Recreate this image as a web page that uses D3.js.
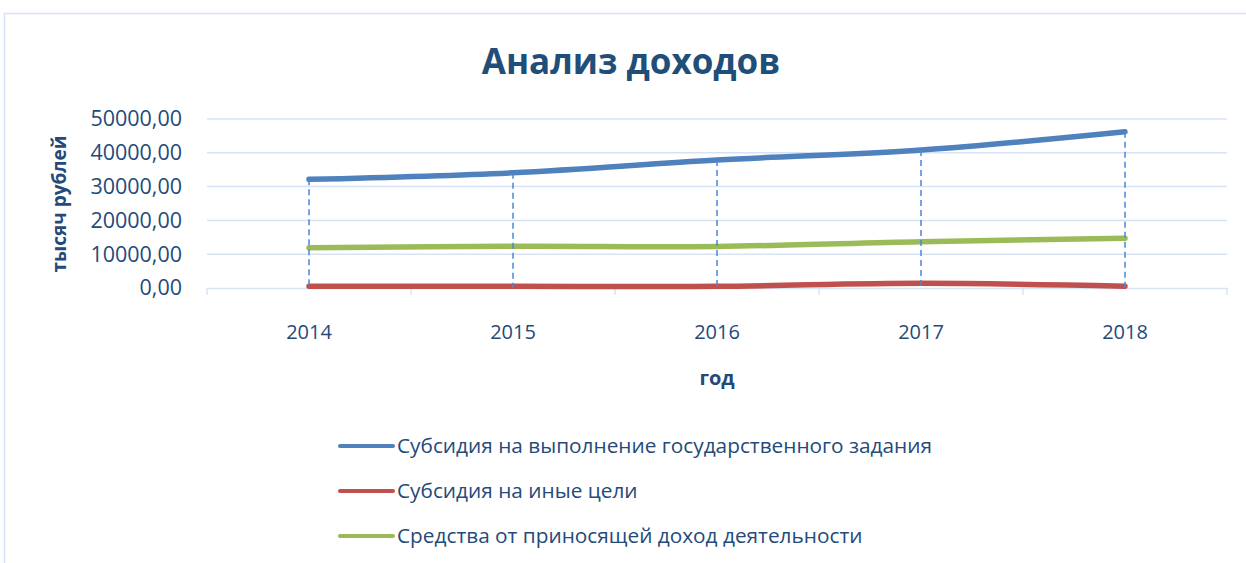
<!DOCTYPE html>
<html>
<head>
<meta charset="utf-8">
<script src="https://cdn.jsdelivr.net/npm/d3@7"></script>
<style>
  body { margin: 0; background: #fff; }
  svg { display: block; font-family: "Open Sans", "Noto Sans", sans-serif; }
</style>
</head>
<body>
<svg id="chart"></svg>
<script>
var width = 1246;
var height = 563;

// data
var years = ["2014", "2015", "2016", "2017", "2018"];
var subsidyTask = [32150, 34100, 37870, 40830, 46240];
var subsidyOther = [500, 500, 500, 1380, 550];
var incomeActivity = [11920, 12330, 12300, 13700, 14700];
var seriesNames = [
	"Субсидия на выполнение государственного задания",
	"Субсидия на иные цели",
	"Средства от приносящей доход деятельности"
];
var yTicks = [0, 10000, 20000, 30000, 40000, 50000];

var colors = ["#4f81bd", "#c0504d", "#9bbb59"];
var textColor = "#244a7a";
var gridColor = "#d7e3f4";

var series = [subsidyTask, subsidyOther, incomeActivity].map(function (vals, i) {
	return {
		name: seriesNames[i],
		color: colors[i],
		values: vals.map(function (v, j) { return {year: years[j], value: v}; })
	};
});

var svg = d3.select("#chart")
	.attr("width", width)
	.attr("height", height);

// chart frame (cropped on the right and bottom)
svg.append("path")
	.attr("d", "M4.5," + height + "V13.5H" + width)
	.attr("fill", "none")
	.attr("stroke", gridColor)
	.attr("stroke-width", 1.5);

var plot = {left: 207, right: 1227, top: 119, bottom: 288};

var x = d3.scaleBand()
	.domain(years)
	.range([plot.left, plot.right]);

var y = d3.scaleLinear()
	.domain([0, 50000])
	.range([plot.bottom, plot.top]);

// title
svg.append("text")
	.attr("x", 631)
	.attr("y", 74)
	.attr("text-anchor", "middle")
	.attr("font-size", 35)
	.attr("font-weight", "bold")
	.attr("fill", "#1f4e79")
	.text("Анализ доходов");

// gridlines
svg.append("g")
	.selectAll("line")
	.data(yTicks.filter(function (d) { return d > 0; }))
	.enter()
	.append("line")
	.attr("x1", plot.left)
	.attr("x2", plot.right)
	.attr("y1", function (d) { return y(d); })
	.attr("y2", function (d) { return y(d); })
	.attr("stroke", gridColor)
	.attr("stroke-width", 1.5);

// y axis labels
var yAxis = svg.append("g")
	.attr("transform", "translate(" + (plot.left - 25) + ",0)")
	.call(d3.axisLeft(y).tickValues(yTicks).tickSize(0).tickPadding(0)
		.tickFormat(function (d) { return d3.format(".2f")(d).replace(".", ","); }));
yAxis.select(".domain").remove();
yAxis.selectAll("text")
	.attr("font-size", 21.5)
	.attr("font-family", "Open Sans, sans-serif")
	.attr("fill", textColor);

// x axis
var xAxis = svg.append("g")
	.attr("transform", "translate(0," + plot.bottom + ")")
	.call(d3.axisBottom(x).tickSize(0).tickPadding(37));
xAxis.select(".domain")
	.attr("stroke", gridColor)
	.attr("stroke-width", 1.5);
xAxis.selectAll("text")
	.attr("font-size", 20)
	.attr("font-family", "Open Sans, sans-serif")
	.attr("fill", textColor);

// category boundary ticks
var bounds = years.map(function (d) { return x(d); }).concat([plot.right]);
xAxis.selectAll("line.bound")
	.data(bounds)
	.enter()
	.append("line")
	.attr("class", "bound")
	.attr("x1", function (d) { return d; })
	.attr("x2", function (d) { return d; })
	.attr("y1", 0)
	.attr("y2", 7)
	.attr("stroke", gridColor)
	.attr("stroke-width", 1.5);

// axis titles
svg.append("text")
	.attr("x", x("2016") + x.bandwidth() / 2)
	.attr("y", 385)
	.attr("text-anchor", "middle")
	.attr("font-size", 20)
	.attr("font-weight", "bold")
	.attr("fill", textColor)
	.text("год");

svg.append("text")
	.attr("transform", "translate(66," + 204 + ") rotate(-90)")
	.attr("text-anchor", "middle")
	.attr("font-size", 19)
	.attr("font-weight", "bold")
	.attr("fill", textColor)
	.text("тысяч рублей");

// lines
var line = d3.line()
	.x(function (d) { return x(d.year) + x.bandwidth() / 2; })
	.y(function (d) { return y(d.value); })
	.curve(d3.curveCatmullRom.alpha(0.5));

svg.append("g")
	.selectAll("path")
	.data(series)
	.enter()
	.append("path")
	.attr("d", function (d) { return line(d.values); })
	.attr("fill", "none")
	.attr("stroke", function (d) { return d.color; })
	.attr("stroke-width", 5.5)
	.attr("stroke-linecap", "round")
	.attr("stroke-linejoin", "round");

// drop lines from the highest series
svg.append("g")
	.selectAll("line")
	.data(series[0].values)
	.enter()
	.append("line")
	.attr("x1", function (d) { return x(d.year) + x.bandwidth() / 2; })
	.attr("x2", function (d) { return x(d.year) + x.bandwidth() / 2; })
	.attr("y1", function (d) { return y(d.value); })
	.attr("y2", plot.bottom)
	.attr("stroke", "#4a86d6")
	.attr("stroke-width", 1.5)
	.attr("stroke-dasharray", "6,4");

// legend
var legend = svg.append("g")
	.selectAll("g")
	.data(series)
	.enter()
	.append("g")
	.attr("transform", function (d, i) { return "translate(340," + (446 + i * 45) + ")"; });

legend.append("line")
	.attr("x1", 0)
	.attr("x2", 53)
	.attr("stroke", function (d) { return d.color; })
	.attr("stroke-width", 4)
	.attr("stroke-linecap", "round");

legend.append("text")
	.attr("x", 57)
	.attr("dy", "0.35em")
	.attr("font-size", 20.8)
	.attr("fill", textColor)
	.text(function (d) { return d.name; });
</script>
</body>
</html>
